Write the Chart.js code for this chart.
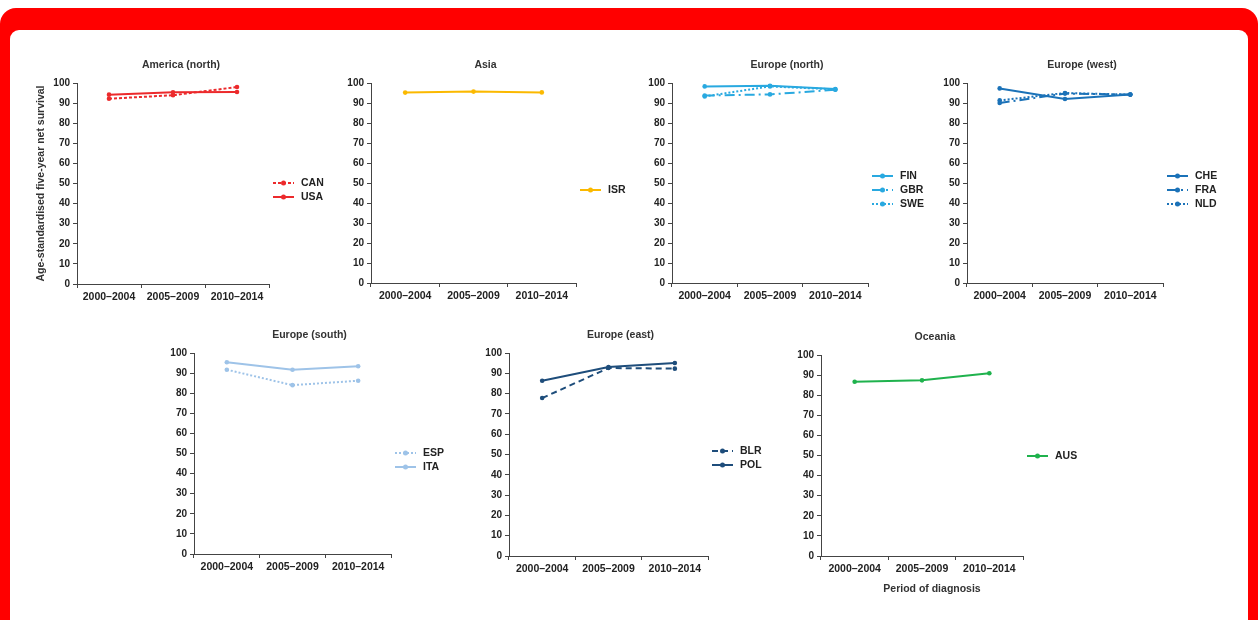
<!DOCTYPE html>
<html>
<head>
<meta charset="utf-8">
<script src="https://cdn.jsdelivr.net/npm/chart.js@4/dist/chart.umd.min.js"></script>
<style>
html,body{margin:0;padding:0;background:#fff;width:1258px;height:620px;overflow:hidden}
#frame{position:absolute;left:0;top:8px;width:1258px;height:660px;background:#ff0000;border-radius:16px 16px 0 0}
#inner{position:absolute;left:10px;top:30px;width:1238px;height:640px;background:#fff;border-radius:9px 9px 0 0}
canvas{position:absolute}
</style>
</head>
<body>
<div id="frame"></div>
<div id="inner"></div>
<div id="charts"></div>
<script>
// periods + tick labels
const periods = ['2000–2004', '2005–2009', '2010–2014'];
const survivalTicks = [0, 10, 20, 30, 40, 50, 60, 70, 80, 90, 100];

// age-standardised five-year net survival (%)
const canSurv = [92.2, 93.9, 98.0];
const usaSurv = [94.2, 95.4, 95.5];
const isrSurv = [95.2, 95.7, 95.3];
const finSurv = [98.3, 98.6, 97.0];
const gbrSurv = [93.7, 94.3, 96.6];
const sweSurv = [93.3, 98.3, 96.8];
const cheSurv = [97.3, 92.0, 94.2];
const fraSurv = [90.0, 94.7, 94.2];
const nldSurv = [91.3, 95.0, 94.2];
const espSurv = [91.7, 84.0, 86.2];
const itaSurv = [95.4, 91.7, 93.4];
const blrSurv = [77.8, 92.6, 92.3];
const polSurv = [86.3, 93.1, 95.1];
const ausSurv = [86.7, 87.4, 90.9];

const FONT = '"Liberation Sans", Arial, Helvetica, sans-serif';
const SOLID = [], DASH = [3, 2], DOT = [2, 2], DASHDOT = [10, 4, 2, 4];

function series(label, data, color, dash){
  return {label, data, borderColor: color, backgroundColor: color, borderDash: dash,
    borderWidth: 2, pointRadius: 2.3, pointHoverRadius: 2.3, pointBorderWidth: 0, tension: 0};
}

const red = '#ec2a2c', gold = '#fbb900', sky = '#29a9e0', blue = '#1b72b8', pale = '#9ec3e8', navy = '#1e4d7b', green = '#1fb24d';

const panels = [
  {title: 'America (north)', area: [77, 83, 269, 284], tdx: 8, ldy: 6.5, yTitle: true,
   ds: [series('CAN', canSurv, red, DASH), series('USA', usaSurv, red, SOLID)]},
  {title: 'Asia', area: [371, 83, 576, 283], tdx: 12, ldy: 7,
   ds: [series('ISR', isrSurv, gold, SOLID)]},
  {title: 'Europe (north)', area: [672, 83, 868, 283], tdx: 17, ldy: 7,
   ds: [series('FIN', finSurv, sky, SOLID), series('GBR', gbrSurv, sky, DASHDOT), series('SWE', sweSurv, sky, DOT)]},
  {title: 'Europe (west)', area: [967, 83, 1163, 283], tdx: 17, ldy: 7,
   ds: [series('CHE', cheSurv, blue, SOLID), series('FRA', fraSurv, blue, DASHDOT), series('NLD', nldSurv, blue, DOT)]},
  {title: 'Europe (south)', area: [194, 353, 391, 554], tdx: 17, ldy: 6.5,
   ds: [series('ESP', espSurv, pale, DOT), series('ITA', itaSurv, pale, SOLID)]},
  {title: 'Europe (east)', area: [509, 353, 708, 556], tdx: 12, ldy: 3.5,
   ds: [series('BLR', blrSurv, navy, [6, 4]), series('POL', polSurv, navy, SOLID)]},
  {title: 'Oceania', area: [821, 355, 1023, 556], tdx: 13, ldy: 0.5, xTitle: 'Period of diagnosis',
   ds: [series('AUS', ausSurv, green, SOLID)]}
];

// title, legend (line + dot) and x title drawn next to the plot
const panelDeco = {
  id: 'panelDeco',
  afterDraw(chart, args, o){
    const {ctx, chartArea: a} = chart;
    const mid = (a.left + a.right) / 2;
    ctx.save();
    ctx.textBaseline = 'middle';
    ctx.textAlign = 'center';
    ctx.fillStyle = '#333';
    ctx.font = 'bold 10.5px ' + FONT;
    ctx.fillText(o.title, mid + o.tdx, a.top - 18);
    if(o.xTitle){
      ctx.font = 'bold 10.5px ' + FONT;
      ctx.fillText(o.xTitle, mid + 10, a.bottom + 33);
    }
    const items = chart.data.datasets;
    const y0 = (a.top + a.bottom) / 2 + o.ldy - (items.length - 1) * 7;
    items.forEach((d, i) => {
      const y = y0 + i * 14;
      ctx.strokeStyle = d.borderColor;
      ctx.lineWidth = 2;
      ctx.setLineDash(d.borderDash);
      ctx.beginPath(); ctx.moveTo(a.right + 4, y); ctx.lineTo(a.right + 25, y); ctx.stroke();
      ctx.setLineDash([]);
      ctx.fillStyle = d.borderColor;
      ctx.beginPath(); ctx.arc(a.right + 14.5, y, 2.5, 0, Math.PI * 2); ctx.fill();
      ctx.fillStyle = '#222';
      ctx.textAlign = 'left';
      ctx.font = 'bold 10.5px ' + FONT;
      ctx.fillText(d.label, a.right + 32, y + 0.5);
    });
    ctx.restore();
  }
};

const holder = document.getElementById('charts');
panels.forEach(p => {
  const [l, t, r, b] = p.area;
  const yw = p.yTitle ? 45 : 36;
  const xh = p.xTitle ? 45 : 28;
  const padTop = 30, padRight = 75;
  const cv = document.createElement('canvas');
  const w = yw + (r - l) + padRight, h = padTop + (b - t) + xh;
  cv.style.left = (l - yw) + 'px';
  cv.style.top = (t - padTop) + 'px';
  cv.style.width = w + 'px';
  cv.style.height = h + 'px';
  cv.width = w; cv.height = h;
  holder.appendChild(cv);

  new Chart(cv, {
    type: 'line',
    data: {labels: periods, datasets: p.ds},
    plugins: [panelDeco],
    options: {
      responsive: false,
      animation: false,
      layout: {padding: {top: padTop, right: padRight, left: 0, bottom: 0}},
      plugins: {
        legend: {display: false},
        tooltip: {enabled: false},
        panelDeco: {title: p.title, tdx: p.tdx, ldy: p.ldy, xTitle: p.xTitle}
      },
      scales: {
        x: {
          type: 'category',
          offset: true,
          afterFit(s){ s.height = xh; },
          border: {display: true, color: '#444', width: 1},
          grid: {offset: true, drawOnChartArea: false, drawTicks: true, tickLength: 4, color: '#444'},
          ticks: {color: '#222', padding: 3, maxRotation: 0, font: {family: FONT, size: 10.5, weight: 'bold'}}
        },
        y: {
          min: 0, max: 100,
          afterFit(s){ s.width = yw; },
          afterBuildTicks(s){ s.ticks = survivalTicks.map(v => ({value: v})); },
          border: {display: true, color: '#444', width: 1},
          grid: {drawOnChartArea: false, drawTicks: true, tickLength: 4, color: '#444'},
          ticks: {color: '#222', padding: 3, font: {family: FONT, size: 10, weight: 'bold'}},
          title: {display: !!p.yTitle, text: 'Age-standardised five-year net survival', color: '#333',
            padding: {top: 3, bottom: 0}, font: {family: FONT, size: 10.5, weight: 'bold'}}
        }
      }
    }
  });
});
</script>
</body>
</html>
